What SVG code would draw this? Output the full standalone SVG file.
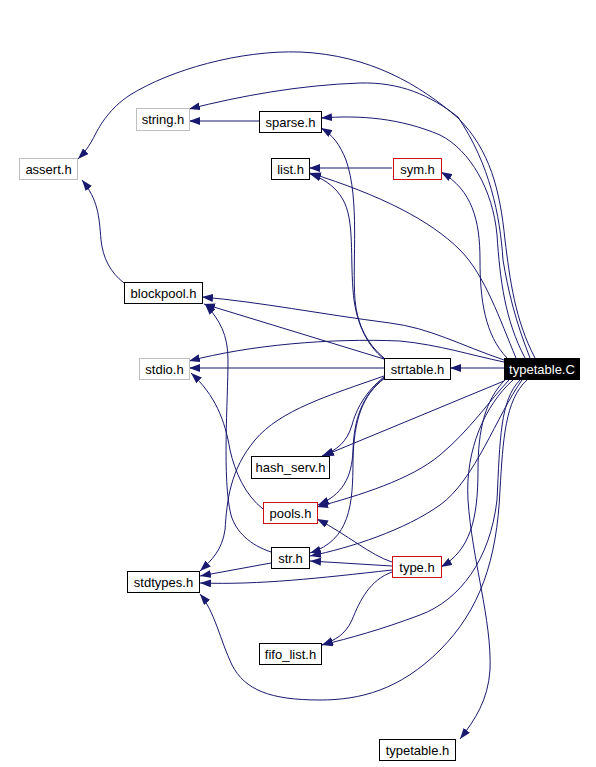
<svg xmlns="http://www.w3.org/2000/svg" width="596" height="767" viewBox="0 0 596 767">
<style>
.e{fill:none;stroke:#191970;stroke-width:1}
.n rect{fill:#fff;stroke:#000;stroke-width:1}
.g rect{stroke:#bfbfbf}
.r rect{stroke:#d01010}
.n text{font-family:"Liberation Sans",Arial,sans-serif;font-size:13px;fill:#000;text-anchor:middle}
#n_typetableC rect{fill:#000;stroke:#000}
#n_typetableC text{fill:#fff}
</style>
<defs>
<marker id="a" markerUnits="userSpaceOnUse" markerWidth="11" markerHeight="8" refX="11" refY="4" orient="auto">
<path d="M0,0 L11,4 L0,8 z" fill="#191970"/>
</marker>
</defs>
<rect width="596" height="767" fill="#fff"/>
<g id="edges" marker-end="url(#a)">
<path class="e" marker-end="url(#a)" d="M535,358 C515,320 510,280 505,240 C500,190 490,150 458,118 C420,85 370,55 300,52 C240,50 170,70 130,95 C110,108 100,125 95,135 C90,145 85,152 78,159"/>
<path class="e" marker-end="url(#a)" d="M530,358 C515,320 508,290 503,260 C500,215 490,165 458,117 C430,95 400,82 360,83 C300,85 240,96 189,109"/>
<path class="e" marker-end="url(#a)" d="M525,358 C505,320 500,280 497,235 C493,190 470,150 440,135 C400,118 360,115 321,118"/>
<path class="e" marker-end="url(#a)" d="M516,358 C500,320 485,275 460,250 C430,220 380,195 310,173"/>
<path class="e" marker-end="url(#a)" d="M507,358 C485,335 480,300 480,260 C480,220 472,190 441,172"/>
<path class="e" marker-end="url(#a)" d="M504,360 C460,345 430,328 390,323 C320,314 260,302 202,297"/>
<path class="e" marker-end="url(#a)" d="M504,362 C470,355 440,345 400,341 C330,338 250,345 189,361"/>
<path class="e" marker-end="url(#a)" d="M504,368 L450,368"/>
<path class="e" marker-end="url(#a)" d="M384,368 L189,368"/>
<path class="e" marker-end="url(#a)" d="M384,359 L204,304"/>
<path class="e" marker-end="url(#a)" d="M384,358 C368,345 357,325 355,300 C352,260 360,200 346,160 C340,145 333,135 321,128"/>
<path class="e" marker-end="url(#a)" d="M384,359 C366,345 355,320 353,290 C350,250 355,215 340,195 C333,185 322,178 310,174"/>
<path class="e" marker-end="url(#a)" d="M392,168 L309,168"/>
<path class="e" marker-end="url(#a)" d="M259,121 L189,121"/>
<path class="e" marker-end="url(#a)" d="M124,283 C110,272 103,258 101,240 C99,215 98,200 82,180"/>
<path class="e" marker-end="url(#a)" d="M271,552 C250,545 236,532 231,515 C222,480 228,400 228,360 C228,335 220,320 205,304"/>
<path class="e" marker-end="url(#a)" d="M263,509 C245,495 235,472 230,450 C225,420 215,395 191,373"/>
<path class="e" marker-end="url(#a)" d="M504,381 L323,456"/>
<path class="e" marker-end="url(#a)" d="M384,377 C365,392 356,410 352,425 C347,442 337,450 322,456"/>
<path class="e" marker-end="url(#a)" d="M509,380 C490,400 470,430 440,455 C410,480 360,495 317,507"/>
<path class="e" marker-end="url(#a)" d="M384,378 C362,395 354,420 353,450 C352,478 342,495 318,505"/>
<path class="e" marker-end="url(#a)" d="M385,378 C362,395 354,420 353,460 C353,505 350,540 310,553"/>
<path class="e" marker-end="url(#a)" d="M522,380 C497,415 475,480 440,505 C405,530 350,548 310,556"/>
<path class="e" marker-end="url(#a)" d="M392,566 L310,561"/>
<path class="e" marker-end="url(#a)" d="M392,562 C370,555 348,535 317,519"/>
<path class="e" marker-end="url(#a)" d="M392,570 C320,578 260,585 200,583"/>
<path class="e" marker-end="url(#a)" d="M271,563 L200,576"/>
<path class="e" marker-end="url(#a)" d="M384,376 C330,395 280,410 255,440 C230,470 227,500 225,530 C222,550 212,560 200,571"/>
<path class="e" marker-end="url(#a)" d="M527,380 C505,400 503,440 500,490 C497,560 480,610 440,650 C400,690 360,700 320,700 C270,700 245,690 232,665 C220,640 215,612 200,594"/>
<path class="e" marker-end="url(#a)" d="M520,380 C500,400 500,440 497,500 C490,560 460,600 420,615 C380,630 350,638 322,645"/>
<path class="e" marker-end="url(#a)" d="M392,572 C370,580 360,600 352,620 C345,635 335,640 322,645"/>
<path class="e" marker-end="url(#a)" d="M505,380 C485,400 478,430 478,470 C478,520 470,550 441,567"/>
<path class="e" marker-end="url(#a)" d="M513,380 C485,405 465,450 468,500 C472,560 492,620 490,670 C488,700 475,720 460,739"/>
</g>
<g id="n_typetableC" class="n"><rect x="504.5" y="358.5" width="75" height="21"/><text x="542" y="374">typetable.C</text></g>
<g id="n_strtable" class="n"><rect x="384.5" y="358.5" width="66" height="21"/><text x="417.5" y="374">strtable.h</text></g>
<g id="n_string" class="n g"><rect x="136.5" y="108.5" width="53" height="22"/><text x="163" y="124">string.h</text></g>
<g id="n_assert" class="n g"><rect x="19.5" y="158.5" width="58" height="21"/><text x="48.5" y="174">assert.h</text></g>
<g id="n_sparse" class="n"><rect x="259.5" y="111.5" width="62" height="21"/><text x="290.5" y="127">sparse.h</text></g>
<g id="n_list" class="n"><rect x="271.5" y="158.5" width="38" height="21"/><text x="290.5" y="174">list.h</text></g>
<g id="n_sym" class="n r"><rect x="393.5" y="158.5" width="48" height="21"/><text x="417.5" y="174">sym.h</text></g>
<g id="n_blockpool" class="n"><rect x="124.5" y="282.5" width="78" height="21"/><text x="163.5" y="298">blockpool.h</text></g>
<g id="n_stdio" class="n g"><rect x="139.5" y="358.5" width="50" height="21"/><text x="164.5" y="374">stdio.h</text></g>
<g id="n_hash_serv" class="n"><rect x="251.5" y="456.5" width="78" height="22"/><text x="290.5" y="472">hash_serv.h</text></g>
<g id="n_pools" class="n r"><rect x="263.5" y="502.5" width="54" height="21"/><text x="290.5" y="518">pools.h</text></g>
<g id="n_str" class="n"><rect x="271.5" y="547.5" width="38" height="21"/><text x="290.5" y="563">str.h</text></g>
<g id="n_type" class="n r"><rect x="392.5" y="556.5" width="49" height="21"/><text x="417" y="572">type.h</text></g>
<g id="n_stdtypes" class="n"><rect x="127.5" y="571.5" width="72" height="21"/><text x="163.5" y="587">stdtypes.h</text></g>
<g id="n_fifo_list" class="n"><rect x="259.5" y="643.5" width="62" height="21"/><text x="290.5" y="659">fifo_list.h</text></g>
<g id="n_typetable_h" class="n"><rect x="379.5" y="739.5" width="76" height="21"/><text x="417.5" y="755">typetable.h</text></g>
</svg>
